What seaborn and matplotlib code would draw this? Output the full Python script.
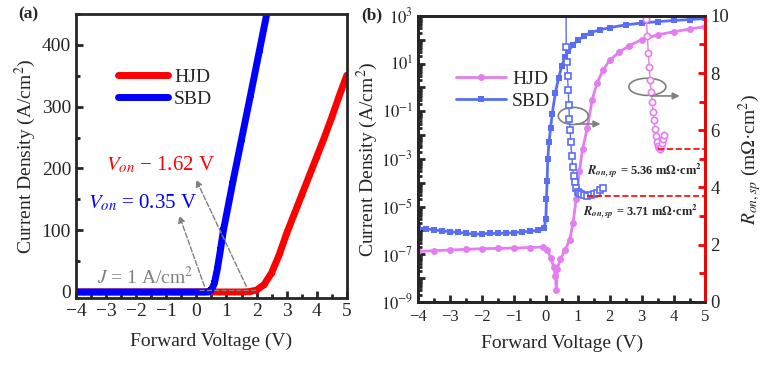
import math
import matplotlib
matplotlib.use("Agg")
import matplotlib.pyplot as plt
import matplotlib.ticker as mticker
from matplotlib.patches import Ellipse
import seaborn as sns

# ---- panel (a): linear J-V ----
v_a_hjd = [-4, -3.75, -3.5, -3.25, -3, -2.75, -2.5, -2.25, -2, -1.75, -1.5, -1.25, -1, -0.75,
           -0.5, -0.25, 0, 0.25, 0.5, 0.75, 1.0, 1.25, 1.5, 1.75, 2.0, 2.25, 2.5, 2.75, 3.0,
           3.25, 3.5, 3.75, 4.0, 4.25, 4.5, 4.75, 5.0]
j_a_hjd = [0, 0, 0, 0, 0, 0, 0, 0, 0, 0, 0, 0, 0, 0,
           0, 0, 0, 0, 0, 0, 0, 0, 0, 0.5, 3, 12, 31, 60, 95,
           126, 157, 188, 219, 250, 283, 318, 351]
v_a_sbd = [-4, -3.75, -3.5, -3.25, -3, -2.75, -2.5, -2.25, -2, -1.75, -1.5, -1.25, -1, -0.75,
           -0.5, -0.25, 0, 0.25, 0.4, 0.5, 0.6, 0.7, 0.8, 0.9, 1.2, 1.5, 1.8, 2.1, 2.4]
j_a_sbd = [0, 0, 0, 0, 0, 0, 0, 0, 0, 0, 0, 0, 0, 0,
           0, 0, 0, 0, 0.5, 3, 14, 38, 68, 100, 175, 247, 319, 392, 465]

# ---- panel (b): log J-V ----
v_b_sbd = [-4, -3.75, -3.5, -3.25, -3, -2.75, -2.5, -2.25, -2, -1.75, -1.5, -1.25, -1, -0.75,
           -0.5, -0.25, -0.05, 0, 0.02, 0.04, 0.06, 0.1, 0.15, 0.2, 0.3, 0.4, 0.5, 0.6, 0.7,
           0.85, 1.0, 1.2, 1.4, 1.7, 2.0, 2.5, 3.0, 3.5, 4.0, 4.5, 5.0]
j_b_sbd = [1.25e-6, 1.15e-6, 1.05e-6, 9.5e-7, 8.8e-7, 8.2e-7, 7.6e-7, 6.8e-7, 7.2e-7, 7.4e-7,
           7.5e-7, 7.6e-7, 8.0e-7, 8.6e-7, 9.2e-7, 1.0e-6, 1.3e-6, 3e-6, 2e-5, 1.2e-4, 1e-3,
           5e-3, 2e-2, 8e-2, 0.6, 2.5, 8, 18, 32, 60, 95, 140, 200, 260, 320, 420, 500, 570,
           640, 700, 780]
v_b_hjd = [-4, -3.5, -3, -2.5, -2, -1.5, -1, -0.5, -0.1, 0.05, 0.15, 0.25, 0.3, 0.33, 0.36,
           0.45, 0.6, 0.75, 0.85, 0.95, 1.05, 1.15, 1.3, 1.45, 1.6, 1.8, 2.0, 2.3, 2.6, 3.0,
           3.5, 4.0, 4.5, 5.0]
j_b_hjd = [1.3e-7, 1.4e-7, 1.5e-7, 1.6e-7, 1.7e-7, 1.75e-7, 1.8e-7, 1.9e-7, 2.0e-7, 1.5e-7,
           7e-8, 3e-8, 1.2e-8, 3e-9, 2.5e-8, 6e-8, 1.5e-7, 4e-7, 2e-6, 2e-5, 3e-4, 2.5e-3,
           2e-2, 0.3, 1.5, 5.5, 14, 30, 55, 100, 160, 215, 280, 355]

# ---- panel (b): specific on-resistance ----
v_r_sbd = [0.62, 0.64, 0.66, 0.68, 0.70, 0.72, 0.74, 0.76, 0.78, 0.81, 0.84, 0.87, 0.9, 0.95,
           1.0, 1.05, 1.1, 1.2, 1.3, 1.4, 1.5, 1.6, 1.7, 1.8]
r_sbd = [12, 8.9, 8.4, 7.9, 7.4, 6.9, 6.4, 6.0, 5.6, 5.1, 4.7, 4.4, 4.2, 3.98,
         3.85, 3.79, 3.76, 3.72, 3.71, 3.72, 3.76, 3.82, 3.9, 3.98]
v_r_hjd = [3.12, 3.15, 3.18, 3.21, 3.24, 3.27, 3.30, 3.33, 3.36, 3.39, 3.42, 3.45, 3.48, 3.51,
           3.54, 3.57, 3.60, 3.63, 3.66, 3.69]
r_hjd = [11, 9.9, 9.3, 8.7, 8.2, 7.75, 7.35, 7.0, 6.65, 6.35, 6.05, 5.8, 5.6, 5.45,
         5.37, 5.36, 5.42, 5.55, 5.7, 5.85]

sns.set_style("ticks")
plt.rcParams["font.family"] = ["Liberation Serif", "DejaVu Serif"]
plt.rcParams["mathtext.fontset"] = "stix"
plt.rcParams["axes.linewidth"] = 2

fig = plt.figure(figsize=(7.83, 3.69), dpi=100)
ax1 = fig.add_axes([0.097, 0.192, 0.346, 0.770])
ax2 = fig.add_axes([0.534, 0.182, 0.367, 0.775])
ax3 = ax2.twinx()

RED, BLUE = "#ff0000", "#0000ff"
VIO, LBLUE = "#e47ef0", "#5a6ef2"
GRAY = "#808080"

# ---------- (a) ----------
sns.lineplot(x=v_a_hjd, y=j_a_hjd, ax=ax1, color=RED, lw=5, marker="o", ms=4, mew=0,
             sort=False, estimator=None, label="HJD")
sns.lineplot(x=v_a_sbd, y=j_a_sbd, ax=ax1, color=BLUE, lw=5, marker="s", ms=4, mew=0,
             sort=False, estimator=None, label="SBD")
ax1.set_xlim(-4, 5)
ax1.set_ylim(-10, 450)
ax1.xaxis.set_major_locator(mticker.MultipleLocator(1))
ax1.xaxis.set_minor_locator(mticker.MultipleLocator(0.5))
ax1.yaxis.set_major_locator(mticker.MultipleLocator(100))
ax1.yaxis.set_minor_locator(mticker.MultipleLocator(50))
ax1.tick_params(which="both", direction="in", width=2, labelsize=14)
ax1.tick_params(which="major", length=5)
ax1.tick_params(which="minor", length=3)
ax1.set_xlabel("Forward Voltage (V)", fontsize=14, labelpad=9)
ax1.set_ylabel("Current Density (A/cm$^2$)", fontsize=14, labelpad=3)
ax1.legend(loc="upper left", bbox_to_anchor=(0.09, 0.87), frameon=False, fontsize=14,
           handlelength=2.6, handletextpad=0.3, labelspacing=0.2)

ax1.plot([0.1, 2.0], [3, 3], ls="--", color=GRAY, lw=1)
ax1.annotate("", xy=(-0.6, 128), xytext=(0.3, 5),
             arrowprops=dict(arrowstyle="-|>", ls="--", color=GRAY, lw=1))
ax1.annotate("", xy=(-0.05, 186), xytext=(1.7, 5),
             arrowprops=dict(arrowstyle="-|>", ls="--", color=GRAY, lw=1))
ax1.text(-3.0, 205, r"$V_{on}$ − 1.62 V", color=RED, fontsize=15, va="center")
ax1.text(-3.6, 144, r"$V_{on}$ = 0.35 V", color=BLUE, fontsize=15, va="center")
ax1.text(-3.3, 24, r"$J$ = 1 A/cm$^2$", color=GRAY, fontsize=14, va="center")
fig.text(0.023, 0.962, "(a)", fontsize=12.5, fontweight="bold", va="center")

# ---------- (b) ----------
sns.lineplot(x=v_b_hjd, y=j_b_hjd, ax=ax2, color=VIO, lw=2, marker="o", ms=5, mew=0,
             sort=False, estimator=None, label="HJD")
sns.lineplot(x=v_b_sbd, y=j_b_sbd, ax=ax2, color=LBLUE, lw=2, marker="s", ms=5, mew=0,
             sort=False, estimator=None, label="SBD")
ax2.set_yscale("log")
ax2.set_xlim(-4, 5)
ax2.set_ylim(1e-9, 1e3)
ax2.xaxis.set_major_locator(mticker.MultipleLocator(1))
ax2.xaxis.set_minor_locator(mticker.MultipleLocator(0.5))
ax2.yaxis.set_major_locator(mticker.LogLocator(base=10, numticks=20))
ax2.yaxis.set_minor_locator(mticker.LogLocator(base=10, subs=range(2, 10), numticks=20))
ax2.yaxis.set_major_formatter(mticker.FuncFormatter(
    lambda y, p: r"$10^{%d}$" % round(math.log10(y)) if round(math.log10(y)) % 2 else ""))
ax2.yaxis.set_minor_formatter(mticker.NullFormatter())
ax2.tick_params(which="both", direction="in", width=2, labelsize=12)
ax2.tick_params(which="major", length=5)
ax2.tick_params(which="minor", length=3)
ax2.tick_params(axis="x", pad=5)
ax2.set_xlabel("Forward Voltage (V)", fontsize=14, labelpad=7)
ax2.set_ylabel("Current Density (A/cm$^2$)", fontsize=14, labelpad=1)
ax2.legend(loc="upper left", bbox_to_anchor=(0.07, 0.87), frameon=False, fontsize=14,
           handlelength=2.6, handletextpad=0.3, labelspacing=0.2)

sns.lineplot(x=v_r_sbd, y=r_sbd, ax=ax3, color=LBLUE, lw=1, marker="s", ms=4.5,
             mfc="white", mec=LBLUE, mew=1.2, sort=False, estimator=None)
sns.lineplot(x=v_r_hjd, y=r_hjd, ax=ax3, color=VIO, lw=1, marker="o", ms=4.5,
             mfc="white", mec=VIO, mew=1.2, sort=False, estimator=None)
ax3.set_ylim(0, 10)
ax3.yaxis.set_major_locator(mticker.MultipleLocator(2))
ax3.yaxis.set_minor_locator(mticker.MultipleLocator(1))
ax3.spines["right"].set_color(RED)
ax3.tick_params(which="both", direction="in", width=2, color=RED, labelsize=13.5)
ax3.tick_params(which="major", length=5)
ax3.tick_params(which="minor", length=4)
ax3.set_ylabel(r"$R_{on,sp}$ (m$\Omega$·cm$^2$)", fontsize=14, labelpad=5)

ax3.plot([3.5, 5], [5.36, 5.36], ls="--", color=RED, lw=1.2)
ax3.plot([1.3, 5], [3.71, 3.71], ls="--", color=RED, lw=1.2)
ax3.text(1.28, 4.6, r"$\mathbfit{R}_{\mathbfit{on,sp}}$ = 5.36 m$\mathbf{\Omega}$·cm$^\mathbf{2}$",
         fontsize=9, fontweight="bold", va="center")
ax3.text(1.15, 3.15, r"$\mathbfit{R}_{\mathbfit{on,sp}}$ = 3.71 m$\mathbf{\Omega}$·cm$^\mathbf{2}$",
         fontsize=9, fontweight="bold", va="center")

ax3.add_patch(Ellipse((0.86, 6.5), 0.94, 0.6, fill=False, ec=GRAY, lw=1.2))
ax3.annotate("", xy=(1.8, 6.22), xytext=(0.86, 6.22),
             arrowprops=dict(arrowstyle="-|>", color=GRAY, lw=1.2))
ax3.add_patch(Ellipse((3.18, 7.52), 1.16, 0.6, fill=False, ec=GRAY, lw=1.2))
ax3.annotate("", xy=(4.28, 7.2), xytext=(3.2, 7.2),
             arrowprops=dict(arrowstyle="-|>", color=GRAY, lw=1.2))
fig.text(0.462, 0.957, "(b)", fontsize=12.5, fontweight="bold", va="center")

fig.savefig("out.png", dpi=100)
